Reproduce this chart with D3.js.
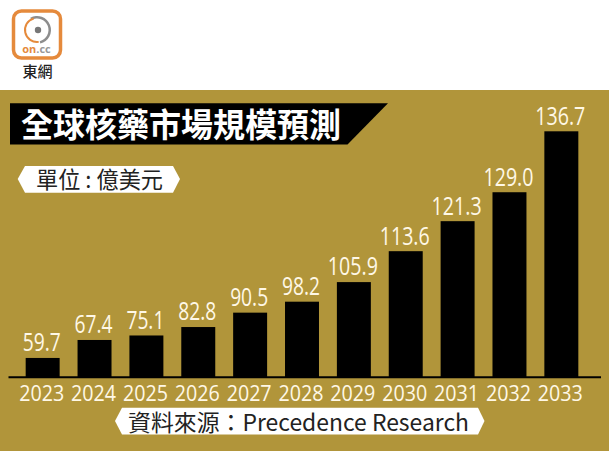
<!DOCTYPE html>
<html><head><meta charset="utf-8">
<script src="https://cdn.jsdelivr.net/npm/d3@7/dist/d3.min.js"></script>
<style>html,body{margin:0;padding:0;background:#fff}svg{display:block}</style>
</head><body><div id="c"></div>
<script>
const years = ["2023","2024","2025","2026","2027","2028","2029","2030","2031","2032","2033"];
const values = [59.7,67.4,75.1,82.8,90.5,98.2,105.9,113.6,121.3,129.0,136.7];
// The source's bars are not drawn to scale with their labels: these are the levels as drawn.
const drawnLevels = [10.6,20.6,23.1,27.8,35.8,41.9,52.8,70.0,86.7,102.8,136.7];
const titleText = "全球核藥市場規模預測";
const unitText = "單位 : 億美元";
const sourceText = "資料來源：Precedence Research";
const logoCaption = "東網";

const W = 609, H = 452;
const gold = "#b1953a", cjk = "'Noto Sans CJK TC','Noto Sans',sans-serif", latin = "'Open Sans','Noto Sans',sans-serif";
const svg = d3.select("#c").append("svg").attr("width", W).attr("height", H);
const line = d3.line();

svg.append("rect").attr("x",0).attr("y",90).attr("width",W).attr("height",361).attr("fill",gold);

// logo
const logo = svg.append("g");
logo.append("rect").attr("x",13.5).attr("y",11).attr("width",47).attr("height",47).attr("rx",8)
  .attr("fill","#fff").attr("stroke","#e58a3c").attr("stroke-width",3.5);
const arc = d3.arc();
logo.append("path").attr("transform","translate(37,30)")
  .attr("d",arc({innerRadius:11.5,outerRadius:14,startAngle:-0.5,endAngle:2.9})).attr("fill","#8d8d8d");
logo.append("path").attr("transform","translate(37,30)")
  .attr("d",arc({innerRadius:11,outerRadius:13,startAngle:3.0,endAngle:6.0})).attr("fill","#e58a3c");
logo.append("circle").attr("cx",38).attr("cy",30).attr("r",3.2).attr("fill","#777");
const lt = logo.append("text").attr("x",36.5).attr("y",52.5).attr("text-anchor","middle").attr("font-family",latin).attr("font-size",11).attr("font-weight",700);
lt.append("tspan").attr("fill","#e58a3c").text("on");
lt.append("tspan").attr("fill","#999").text(".cc");
svg.append("text").attr("x",37.5).attr("y",76.5).attr("text-anchor","middle").attr("font-family",cjk)
  .attr("font-size",15).attr("font-weight",500).attr("fill","#222").text(logoCaption);

// title banner
svg.append("path").attr("d", line([[10,103.3],[388,103.3],[347.5,144.5],[10,144.5]])+"Z").attr("fill","#000");
svg.append("text").attr("x",21).attr("y",137).attr("font-family",cjk).attr("font-size",33).attr("font-weight",700)
  .attr("fill","#fff").attr("textLength",320).attr("lengthAdjust","spacingAndGlyphs").text(titleText);

// unit tag
svg.append("path").attr("d", line([[17.7,179],[25,166],[173,166],[180,179],[173,192.7],[25,192.7]])+"Z").attr("fill","#fff");
svg.append("text").attr("x",36).attr("y",188).attr("font-family",cjk).attr("font-size",22.5)
  .attr("fill","#222").attr("textLength",127).attr("lengthAdjust","spacingAndGlyphs").text(unitText);

// bars
const x = d3.scaleBand().domain(years).range([15.3,588.7]).paddingInner(0.345).paddingOuter(0.2);
const y = d3.scaleLinear().domain([0,136.7]).range([377,131.3]);
const rows = years.map((yr,i)=>({yr,v:values[i],lvl:drawnLevels[i]}));

svg.selectAll("rect.bar").data(rows).join("rect").attr("class","bar")
  .attr("x",d=>x(d.yr)).attr("width",x.bandwidth())
  .attr("y",d=>y(d.lvl)).attr("height",d=>y(0)-y(d.lvl)).attr("fill","#000");

svg.selectAll("text.val").data(rows).join("text").attr("class","val")
  .attr("x",d=>x(d.yr)+x.bandwidth()/2-1).attr("y",d=>y(d.lvl)-6.6)
  .attr("text-anchor","middle").attr("font-family",latin).attr("font-size",25).attr("fill","#fff8e6")
  .attr("textLength",d=>d.v>=100?50:38).attr("lengthAdjust","spacingAndGlyphs")
  .text(d=>d.v.toFixed(1));

// axis
const axis = svg.append("g").attr("transform","translate(-1,377)")
  .call(d3.axisBottom(x).tickSize(0).tickPadding(6));
axis.select(".domain").remove();
svg.append("path").attr("d",line([[8.5,377.3],[601,377.3]])).attr("stroke","#000").attr("stroke-width",2).attr("fill","none");
axis.selectAll("text").attr("font-family",latin).attr("font-size",22).attr("fill","#fff8e6")
  .attr("y",23.5).attr("dy",0).attr("textLength",45).attr("lengthAdjust","spacingAndGlyphs");

// source tag
svg.append("path").attr("d", line([[115,421],[122,407.7],[478,407.7],[484.5,421],[478,434.5],[122,434.5]])+"Z").attr("fill","#fff");
svg.append("text").attr("x",128).attr("y",431).attr("font-family",cjk).attr("font-size",23)
  .attr("fill","#222").attr("textLength",341).attr("lengthAdjust","spacingAndGlyphs").text(sourceText);
</script></body></html>
